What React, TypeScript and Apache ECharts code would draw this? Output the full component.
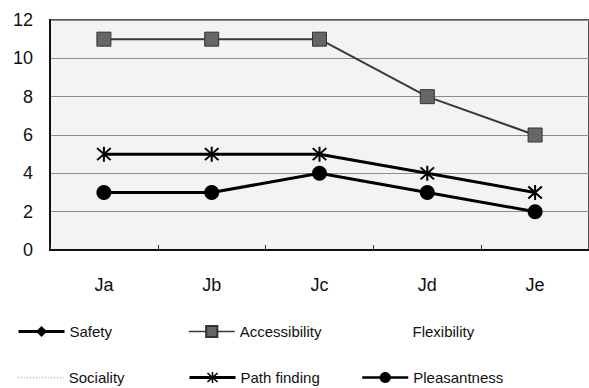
import React, { useEffect, useRef } from "react";
import * as echarts from "echarts";

const categories = ["Ja", "Jb", "Jc", "Jd", "Je"];
const yTicks = { min: 0, max: 12, interval: 2 };

const safety: number[] = [];
const accessibility = [11, 11, 11, 8, 6];
const flexibility: number[] = [];
const sociality: number[] = [];
const pathFinding = [5, 5, 5, 4, 3];
const pleasantness = [3, 3, 4, 3, 2];

const ASTERISK =
  "path://M44 0H56V100H44Z M14.24 5.76L94.24 85.76L85.76 94.24L5.76 14.24Z M85.76 5.76L94.24 14.24L14.24 94.24L5.76 85.76Z";

const FONT = "'Liberation Sans', Arial, sans-serif";

function legendAt(
  name: string,
  left: number,
  top: number,
  lineWidth: number,
  lineType: "solid" | "dotted" = "solid"
) {
  return {
    data: [name],
    left,
    top,
    padding: 0,
    itemWidth: 46,
    itemHeight: 14,
    itemGap: 0,
    lineStyle: { width: lineWidth, type: lineType },
    textStyle: { fontFamily: FONT, fontSize: 15, color: "#111" },
    selectedMode: false,
  };
}

export default function App() {
  const ref = useRef<HTMLDivElement>(null);

  useEffect(() => {
    if (!ref.current) return;
    const chart = echarts.init(ref.current, undefined, { renderer: "svg" });
    chart.setOption({
      animation: false,
      backgroundColor: "#ffffff",
      grid: {
        left: 50,
        top: 20,
        right: -4,
        bottom: 138,
        show: true,
        backgroundColor: "#f3f3f3",
        borderColor: "#1a1a1a",
        borderWidth: 1.5,
      },
      legend: [
        legendAt("Safety", 17, 324, 3),
        legendAt("Accessibility", 188, 324, 1.5),
        legendAt("Flexibility", 361, 324, 1),
        legendAt("Sociality", 17, 370, 1.5, "dotted"),
        legendAt("Path finding", 188, 370, 3),
        legendAt("Pleasantness", 361, 370, 2.5),
      ],
      xAxis: {
        type: "category",
        data: categories,
        boundaryGap: true,
        axisLine: { lineStyle: { color: "#111", width: 2 } },
        axisTick: { show: true, inside: true, length: 5, lineStyle: { color: "#333" } },
        axisLabel: { fontFamily: FONT, fontSize: 18, color: "#111", margin: 26 },
      },
      yAxis: {
        type: "value",
        min: yTicks.min,
        max: yTicks.max,
        interval: yTicks.interval,
        axisLine: { show: true, lineStyle: { color: "#111", width: 2 } },
        axisTick: { show: false },
        axisLabel: { fontFamily: FONT, fontSize: 18, color: "#111", margin: 17 },
        splitLine: { lineStyle: { color: "#8c8c8c", width: 1 } },
      },
      series: [
        {
          name: "Safety",
          type: "line",
          data: safety,
          symbol: "diamond",
          symbolSize: 13,
          color: "#000",
          lineStyle: { color: "#000", width: 3 },
        },
        {
          name: "Accessibility",
          type: "line",
          data: accessibility,
          symbol: "rect",
          symbolSize: 14,
          color: "#666666",
          itemStyle: { color: "#666666", borderColor: "#333333", borderWidth: 1 },
          lineStyle: { color: "#3a3a3a", width: 2 },
          z: 3,
        },
        {
          name: "Flexibility",
          type: "line",
          data: flexibility,
          symbol: "none",
          color: "#ffffff",
          itemStyle: { color: "rgba(0,0,0,0)" },
          lineStyle: { color: "#ffffff", width: 1 },
        },
        {
          name: "Sociality",
          type: "line",
          data: sociality,
          symbol: "none",
          color: "#c8c8c8",
          itemStyle: { color: "rgba(0,0,0,0)" },
          lineStyle: { color: "#c8c8c8", width: 1, type: "dotted" },
        },
        {
          name: "Path finding",
          type: "line",
          data: pathFinding,
          symbol: ASTERISK,
          symbolSize: 15,
          color: "#000",
          itemStyle: { color: "#000" },
          lineStyle: { color: "#000", width: 3 },
          z: 4,
        },
        {
          name: "Pleasantness",
          type: "line",
          data: pleasantness,
          symbol: "circle",
          symbolSize: 15,
          color: "#000",
          itemStyle: { color: "#000" },
          lineStyle: { color: "#000", width: 3 },
          z: 5,
        },
      ],
    });
    return () => chart.dispose();
  }, []);

  return (
    <div
      ref={ref}
      style={{ position: "fixed", left: 0, top: 0, width: 589, height: 388, background: "#fff" }}
    />
  );
}
